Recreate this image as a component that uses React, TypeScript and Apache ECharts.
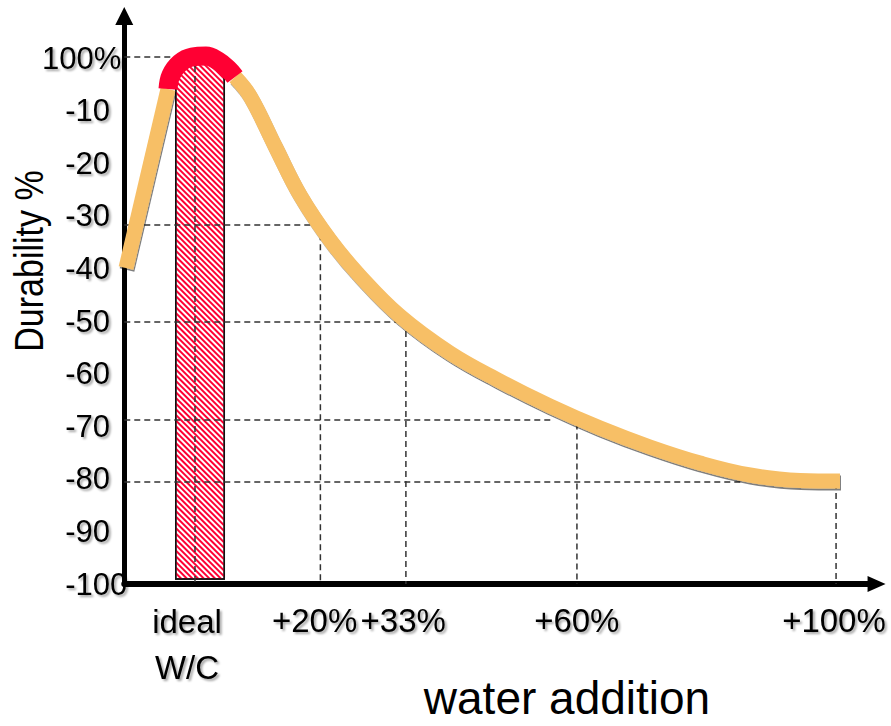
import React, { useEffect, useRef } from "react";
import * as echarts from "echarts";

// ---- data ----
const yTickValues = [-10, -20, -30, -40, -50, -60, -70, -80, -90, -100];
const yTopTick = [0];
const xTickValues = [0, 20, 33, 60, 100];
const xTickLabels = ["ideal\nW/C", "+20%", "+33%", "+60%", "+100%"];

// durability curve, split into its three coloured parts
const riseCurve = [
  [-10.73, -39.92],
  [-4.2, -5.89],
];
const peakCurve = [
  [-4.2, -5.89],
  [-3.73, -3.23],
  [-2.33, -0.95],
  [-0.47, 0.19],
  [1.71, 0.38],
  [3.58, -0.57],
  [5.13, -2.09],
  [6.22, -3.61],
];
const fallCurve = [
  [6.22, -3.61],
  [8.55, -7.22],
  [12.44, -16.73],
  [16.33, -26.05],
  [21.0, -34.6],
  [25.66, -41.44],
  [31.88, -49.05],
  [39.66, -56.08],
  [47.43, -61.41],
  [55.21, -66.16],
  [62.99, -70.34],
  [70.76, -73.95],
  [78.54, -77.0],
  [86.31, -79.28],
  [94.09, -80.32],
  [100.31, -80.42],
];

// dashed guide lines
const guideLevels = [0.2, -31.75, -50.2, -68.8, -80.6];
const guideLevelEnds = [-2.8, 19, 32, 55.5, 85];
const guideDrops = [0, 19.5, 32.8, 59.4, 99.7];
const guideDropStarts = [-1.5, -33.5, -50, -69.5, -80.8];

// ideal W/C band
const idealX = [0.78];
const idealBottom = [-99.2];

const X_MIN = -11;
const X_MAX = 106;
const Y_MIN = -100;
const Y_MAX = 8;

const FONT = '"Liberation Sans", Arial, sans-serif';

const shadowText = {
  textShadowColor: "rgba(0,0,0,0.35)",
  textShadowBlur: 2,
  textShadowOffsetX: 2,
  textShadowOffsetY: 2,
};

export default function App() {
  const ref = useRef<HTMLDivElement>(null);

  useEffect(() => {
    if (!ref.current) return;
    const chart = echarts.init(ref.current, undefined, { renderer: "svg" });

    const dashStyle = { type: [6, 4] as any, width: 1.5, color: "#333" };
    const guideSeries: any[] = [];
    guideLevels.forEach((y, i) => {
      guideSeries.push({
        type: "line",
        data: [
          [X_MIN, y],
          [guideLevelEnds[i], y],
        ],
        symbol: "none",
        silent: true,
        clip: false,
        lineStyle: dashStyle,
        z: 2,
      });
    });
    guideDrops.forEach((x, i) => {
      guideSeries.push({
        type: "line",
        data: [
          [x, guideDropStarts[i]],
          [x, Y_MIN],
        ],
        symbol: "none",
        silent: true,
        clip: false,
        lineStyle: dashStyle,
        z: 2,
      });
    });

    const orangeStyle = {
      color: "#F7BF66",
      width: 15,
      cap: "butt",
      join: "round",
      shadowColor: "rgba(0,0,0,0.5)",
      shadowBlur: 1,
      shadowOffsetX: 1,
      shadowOffsetY: 2,
    };

    const richBase = { fontFamily: FONT, color: "#000", ...shadowText };

    const option: any = {
      animation: false,
      backgroundColor: "#ffffff",
      grid: {
        left: 124.27,
        right: 14.43,
        top: 15.92,
        bottom: 142,
        containLabel: false,
        outerBoundsMode: "none",
      },
      xAxis: {
        type: "value",
        min: X_MIN,
        max: X_MAX,
        splitLine: { show: false },
        axisTick: { show: false },
        axisLine: {
          onZero: false,
          symbol: ["none", "triangle"],
          symbolSize: [16, 18],
          lineStyle: { color: "#000", width: 6 },
        },
        axisLabel: {
          customValues: xTickValues,
          margin: 14,
          color: "#000",
          fontFamily: FONT,
          fontSize: 33,
          lineHeight: 44,
          ...shadowText,
          formatter: (v: number) => {
            const i = xTickValues.indexOf(v);
            const t = i >= 0 ? xTickLabels[i] : "";
            if (i === 0) return t.split("\n").map((s) => `{i|${s}}`).join("\n");
            if (i === 1) return `{a|${t}}`;
            return `{b|${t}}`;
          },
          rich: {
            i: { ...richBase, fontSize: 33, lineHeight: 46, padding: [0, 16, 0, 0] },
            a: { ...richBase, fontSize: 33, lineHeight: 44, padding: [0, 18, 0, 0] },
            b: { ...richBase, fontSize: 33, lineHeight: 44, padding: [0, 8, 0, 0] },
          },
        },
      },
      yAxis: [
        {
          type: "value",
          min: Y_MIN,
          max: Y_MAX,
          splitLine: { show: false },
          axisTick: { show: false },
          axisLine: {
            show: true,
            onZero: false,
            symbol: ["none", "triangle"],
            symbolSize: [18, 18],
            lineStyle: { color: "#000", width: 5 },
          },
          axisLabel: {
            customValues: yTickValues,
            formatter: (v: number) => String(v),
            align: "left",
            margin: 59,
            padding: [8, 0, 0, 0],
            color: "#000",
            fontFamily: FONT,
            fontSize: 31,
            ...shadowText,
          },
        },
        {
          type: "value",
          min: Y_MIN,
          max: Y_MAX,
          position: "left",
          splitLine: { show: false },
          axisTick: { show: false },
          axisLine: { show: false },
          axisLabel: {
            customValues: yTopTick,
            formatter: () => "100%",
            align: "right",
            margin: 3,
            padding: [8, 0, 0, 0],
            color: "#000",
            fontFamily: FONT,
            fontSize: 31,
            ...shadowText,
          },
        },
      ],
      graphic: [
        {
          type: "text",
          x: 29,
          y: 261,
          rotation: Math.PI / 2,
          scaleX: 0.83,
          style: {
            text: "Durability %",
            font: `41px ${FONT}`,
            fill: "#000",
            align: "center",
            verticalAlign: "middle",
          },
        },
        {
          type: "text",
          x: 567,
          y: 698,
          style: {
            text: "water addition",
            font: `46px ${FONT}`,
            fill: "#000",
            align: "center",
            verticalAlign: "middle",
          },
        },
      ],
      series: [
        {
          type: "bar",
          barWidth: 50,
          silent: true,
          data: idealX.map((x, i) => [x, idealBottom[i]]),
          itemStyle: {
            color: "#ffffff",
            borderColor: "#111",
            borderWidth: 1.5,
            borderRadius: [22, 22, 0, 0],
            decal: {
              symbol: "rect",
              symbolSize: 1,
              color: "#FF0033",
              backgroundColor: "#ffffff",
              dashArrayX: [1, 0],
              dashArrayY: [1.5, 1.5],
              rotation: Math.PI / 4,
            },
          },
          z: 1,
        },
        ...guideSeries,
        {
          type: "line",
          data: riseCurve,
          symbol: "none",
          silent: true,
          clip: false,
          lineStyle: orangeStyle,
          z: 3,
        },
        {
          type: "line",
          data: fallCurve,
          symbol: "none",
          smooth: 0.4,
          silent: true,
          clip: false,
          lineStyle: orangeStyle,
          z: 3,
        },
        {
          type: "line",
          data: peakCurve,
          symbol: "none",
          smooth: 0.4,
          silent: true,
          clip: false,
          lineStyle: { color: "#FF0033", width: 19, cap: "butt", join: "round" },
          z: 4,
        },
      ],
    };

    chart.setOption(option);
    return () => chart.dispose();
  }, []);

  return (
    <div
      ref={ref}
      style={{ position: "fixed", left: 0, top: 0, width: 891, height: 726, background: "#fff" }}
    />
  );
}
